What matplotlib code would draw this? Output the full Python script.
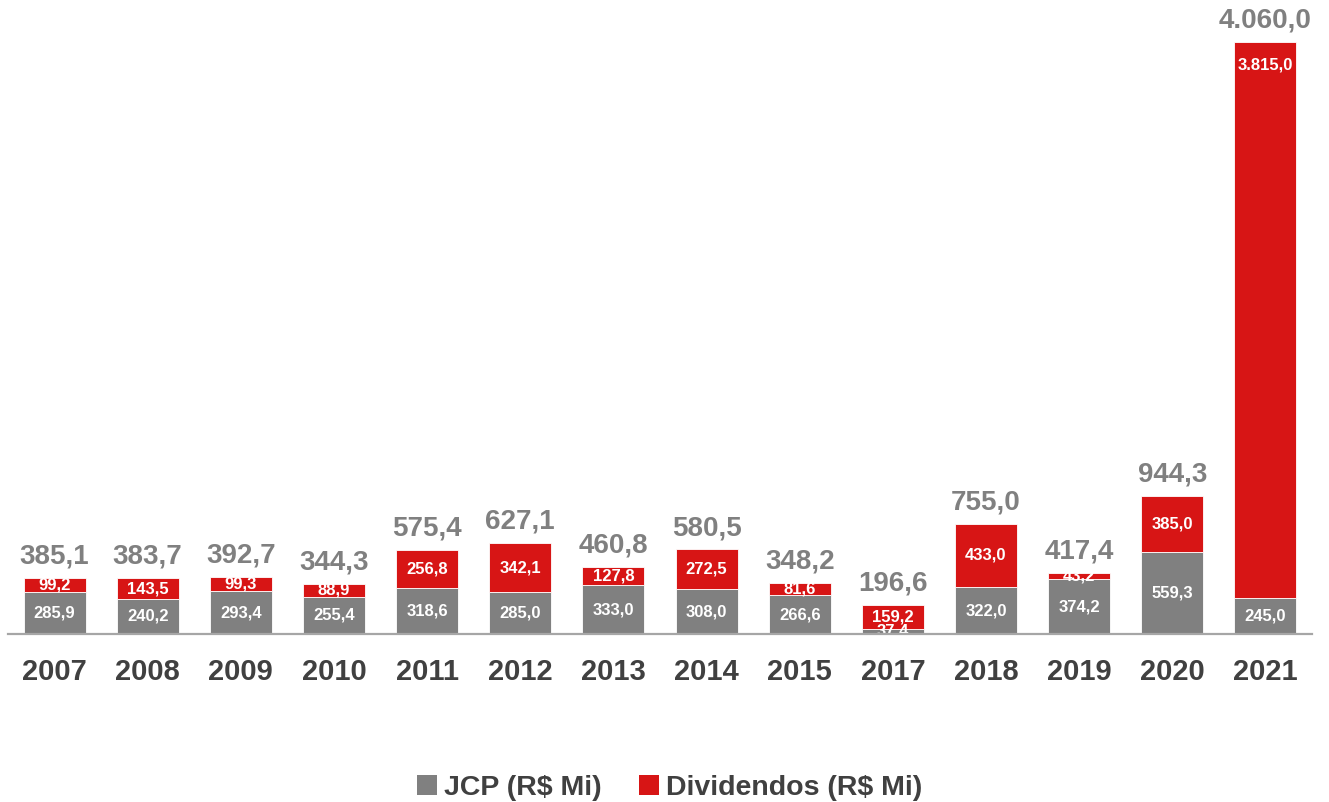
import matplotlib
matplotlib.use("Agg")
import matplotlib.pyplot as plt
from matplotlib.patches import Patch
import numpy as np

plt.rcParams['font.family'] = ['Liberation Sans', 'DejaVu Sans']

years = ['2007', '2008', '2009', '2010', '2011', '2012', '2013', '2014',
         '2015', '2017', '2018', '2019', '2020', '2021']
jcp = [285.9, 240.2, 293.4, 255.4, 318.6, 285.0, 333.0, 308.0,
       266.6, 37.4, 322.0, 374.2, 559.3, 245.0]
dividendos = [99.2, 143.5, 99.3, 88.9, 256.8, 342.1, 127.8, 272.5,
              81.6, 159.2, 433.0, 43.2, 385.0, 3815.0]

GRAY = '#808080'
RED = '#d71515'
DARK = '#404040'


def fmt(v):
    s = f"{v:,.1f}"
    return s.replace(',', 'X').replace('.', ',').replace('X', '.')


fig = plt.figure(figsize=(13.29, 8.02), dpi=100)
ax = fig.add_axes([8 / 1329, 168 / 802, 1304 / 1329, 627 / 802])

x = np.arange(len(years))
w = 0.667
ax.bar(x, jcp, width=w, color=GRAY, edgecolor='white', linewidth=0.6, zorder=2)
ax.bar(x, dividendos, width=w, bottom=jcp, color=RED, edgecolor='white', linewidth=0.6, zorder=2)

ax.set_xlim(-0.5, len(years) - 0.5)
ax.set_ylim(0, 4300)

for i in range(len(years)):
    j, d = jcp[i], dividendos[i]
    t = j + d
    ax.text(x[i], j / 2, fmt(j), ha='center', va='center', color='white',
            fontsize=12, fontweight='bold', zorder=3)
    if d > 1000:
        ax.annotate(fmt(d), (x[i], t), xytext=(0, -11), textcoords='offset points',
                    ha='center', va='top', color='white', fontsize=12,
                    fontweight='bold', zorder=3)
    else:
        ax.text(x[i], j + d / 2, fmt(d), ha='center', va='center', color='white',
                fontsize=12, fontweight='bold', zorder=3)
    ax.annotate(fmt(t), (x[i], t), xytext=(0, 6), textcoords='offset points',
                ha='center', va='bottom', color=GRAY, fontsize=20, fontweight='bold')

for s in ['top', 'right', 'left']:
    ax.spines[s].set_visible(False)
ax.spines['bottom'].set_color('#a6a6a6')
ax.spines['bottom'].set_linewidth(1.6)
ax.spines['bottom'].set_zorder(4)
ax.set_yticks([])
ax.set_xticks(x)
ax.set_xticklabels(years, fontsize=21, fontweight='bold', color=DARK)
ax.tick_params(axis='x', length=0, pad=17)

handles = [Patch(facecolor=GRAY, label='JCP (R$ Mi)'),
           Patch(facecolor=RED, label='Dividendos (R$ Mi)')]
fig.legend(handles=handles, loc='center', bbox_to_anchor=(0.504, 0.017), ncol=2,
           frameon=False, prop={'size': 20.5, 'weight': 'bold'}, labelcolor=DARK,
           handlelength=0.7, handleheight=0.7, handletextpad=0.25, columnspacing=1.3)

fig.savefig('out.png', dpi=100)
